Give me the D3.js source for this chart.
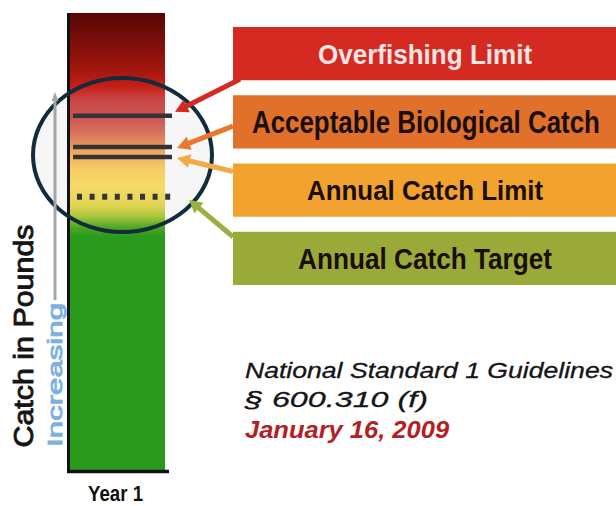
<!DOCTYPE html>
<html><head><meta charset="utf-8">
<script src="https://cdn.jsdelivr.net/npm/d3@7/dist/d3.min.js"></script>
<style>html,body{margin:0;padding:0;background:#fff;}svg{display:block;}</style>
</head><body>
<svg id="chart" width="616" height="506"></svg>
<script>
// ---- data ----
const categories = ["Year 1"];
const levelNames = ["Overfishing Limit", "Acceptable Biological Catch", "Annual Catch Limit", "Annual Catch Target"];
const levelValues = [77.5, 70.7, 68.5, 59.8];          // catch (relative units, 0-100 scale)
const levelDash = [false, false, false, true];
const boxColors = ["#d42a22", "#e0702a", "#f2a22e", "#9aaa38"];
const arrowColors = ["#d42a22", "#e8782e", "#f2aa48", "#9ab040"];
const textColors = ["#f4e4e4", "#1a0e0a", "#1a0e0a", "#1a0e0a"];
const barGradient = [
  [100, "#560604"], [88, "#a0160e"], [84, "#c41e16"], [81, "#c94646"],
  [77, "#cc5454"], [73, "#dc7c5c"], [70, "#eca460"], [66, "#f6cc62"],
  [62, "#f7da6a"], [58, "#e2d652"], [55.5, "#aac63e"], [53, "#4aa624"], [51, "#2a9a1c"], [0, "#2a9a1c"]
];
const yAxisTitle = "Catch in Pounds";
const arrowLabel = "Increasing";
const noteLines = ["National Standard 1 Guidelines", "§ 600.310 (f)", "January 16, 2009"];

const FONT = "Liberation Sans, Arial, sans-serif";

// ---- scales ----
const svg = d3.select("#chart");
const y = d3.scaleLinear().domain([0, 100]).range([470, 13]);
const x = d3.scaleBand().domain(categories).range([68, 165]).padding(0);
const box = d3.scaleBand().domain(levelNames).range([27, 285]).paddingInner(0.22).paddingOuter(0);

// fit text: font-size from cap height, then horizontal scale to target width
function fitText(t, px, py, width, cap, rot) {
  const fs = cap / 0.716;
  t.attr("font-size", fs).attr("font-family", FONT);
  const w = t.node().getComputedTextLength();
  const sx = width / w;
  t.attr("transform", `translate(${px},${py})` + (rot ? ` rotate(${rot})` : "") + ` scale(${sx},1)`);
  return t;
}

// gradient
const defs = svg.append("defs");
const grad = defs.append("linearGradient").attr("id", "barGrad")
  .attr("gradientUnits", "userSpaceOnUse")
  .attr("x1", 0).attr("x2", 0).attr("y1", y(100)).attr("y2", y(0));
grad.selectAll("stop").data(barGradient).join("stop")
  .attr("offset", d => (y(d[0]) - y(100)) / (y(0) - y(100)))
  .attr("stop-color", d => d[1]);

// ellipse background
const ell = {cx: 122.5, cy: 155, rx: 89.5, ry: 77};
svg.append("ellipse").attr("cx", ell.cx).attr("cy", ell.cy).attr("rx", ell.rx).attr("ry", ell.ry)
  .attr("fill", "#f6f6f6");

// bar
svg.selectAll("rect.bar").data(categories).join("rect").attr("class", "bar")
  .attr("x", d => x(d)).attr("width", x.bandwidth())
  .attr("y", y(100)).attr("height", y(0) - y(100))
  .attr("fill", "url(#barGrad)");

// axes lines
svg.append("line").attr("x1", 68.5).attr("x2", 68.5).attr("y1", y(100)).attr("y2", 473)
  .attr("stroke", "#111").attr("stroke-width", 3);
svg.append("line").attr("x1", 67).attr("x2", 169).attr("y1", 471.5).attr("y2", 471.5)
  .attr("stroke", "#111").attr("stroke-width", 3.5);

// category label
svg.selectAll("text.cat").data(categories).join("text").attr("class", "cat")
  .attr("text-anchor", "middle").attr("font-weight", "bold").attr("fill", "#111")
  .text(d => d)
  .each(function(d) { fitText(d3.select(this), x(d) + x.bandwidth() / 2 - 1, 501, 55, 15.5); });

// level lines
svg.selectAll("line.level").data(levelValues).join("line").attr("class", "level")
  .attr("x1", (d, i) => levelDash[i] ? 77 : 73).attr("x2", 172)
  .attr("y1", d => y(d)).attr("y2", d => y(d))
  .attr("stroke", "#33343a").attr("stroke-width", (d, i) => levelDash[i] ? 6 : 4.5)
  .attr("stroke-dasharray", (d, i) => levelDash[i] ? "5 7.6" : null);

// ellipse outline
svg.append("ellipse").attr("cx", ell.cx).attr("cy", ell.cy).attr("rx", ell.rx).attr("ry", ell.ry)
  .attr("fill", "none").attr("stroke", "#132c3c").attr("stroke-width", 4);

// label boxes
const bx = 233;
svg.selectAll("rect.box").data(levelNames).join("rect").attr("class", "box")
  .attr("x", bx).attr("width", 616 - bx)
  .attr("y", d => box(d)).attr("height", box.bandwidth())
  .attr("fill", (d, i) => boxColors[i]);

const labelX = [318, 252, 307, 298];
const labelW = [214, 348, 236, 254];
const labelCap = [20, 22, 20, 21];
svg.selectAll("text.box").data(levelNames).join("text").attr("class", "box")
  .attr("font-weight", "bold")
  .attr("fill", (d, i) => textColors[i])
  .text(d => d)
  .each(function(d, i) {
    const cy = box(d) + box.bandwidth() / 2 + labelCap[i] / 2;
    fitText(d3.select(this), labelX[i], cy, labelW[i], labelCap[i]);
  });

// pointer arrows from boxes to levels
const starts = levelNames.map((d, i) => [
  i === 0 ? 240 : bx,
  i === 0 ? box(d) + box.bandwidth() - 1 : i === 3 ? box(d) + 5 : box(d) + box.bandwidth() * (i === 1 ? 0.58 : 0.15)
]);
const tips = levelValues.map((v, i) => [
  [175, 177, 177, 189][i],
  y(v) + [-4, 1, 1, 3][i]
]);
function arrow(g, p0, p1, color, w, hl, hw) {
  const dx = p1[0] - p0[0], dy = p1[1] - p0[1];
  const L = Math.hypot(dx, dy), ux = dx / L, uy = dy / L;
  const bxp = p1[0] - ux * hl, byp = p1[1] - uy * hl;
  g.append("line").attr("x1", p0[0]).attr("y1", p0[1]).attr("x2", bxp + ux * 2).attr("y2", byp + uy * 2)
    .attr("stroke", color).attr("stroke-width", w);
  g.append("path").attr("d", `M${p1[0]},${p1[1]}L${bxp - uy * hw},${byp + ux * hw}L${bxp + uy * hw},${byp - ux * hw}Z`)
    .attr("fill", color);
}
const ag = svg.append("g");
levelNames.forEach((d, i) => arrow(ag, starts[i], tips[i], arrowColors[i], 5, 13, 7));

// increasing arrow (gray)
arrow(svg.append("g"), [55, 300], [55, 92], "#a6a6a6", 3, 9, 3.5);

// axis title & arrow label (rotated)
fitText(svg.append("text").attr("text-anchor", "middle").attr("fill", "#151515")
  .attr("stroke", "#151515").attr("stroke-width", 0.9).text(yAxisTitle), 33, 336, 223, 20, -90);
fitText(svg.append("text").attr("text-anchor", "middle").attr("fill", "#7cb0e0")
  .attr("stroke", "#7cb0e0").attr("stroke-width", 0.9).text(arrowLabel), 62, 375, 144, 15, -90);

// notes
const noteStyle = [
  {y: 378, cap: 16, weight: "normal", color: "#151515", len: 368},
  {y: 407, cap: 16, weight: "normal", color: "#151515", len: 183},
  {y: 438, cap: 16.5, weight: "bold", color: "#b3201f", len: 204}
];
svg.selectAll("text.note").data(noteLines).join("text").attr("class", "note")
  .attr("font-style", "italic")
  .attr("font-weight", (d, i) => noteStyle[i].weight)
  .attr("fill", (d, i) => noteStyle[i].color)
  .attr("stroke", (d, i) => i < 2 ? noteStyle[i].color : null)
  .attr("stroke-width", (d, i) => i < 2 ? 0.3 : null)
  .text(d => d)
  .each(function(d, i) { fitText(d3.select(this), 245, noteStyle[i].y, noteStyle[i].len, noteStyle[i].cap); });
</script>
</body></html>
